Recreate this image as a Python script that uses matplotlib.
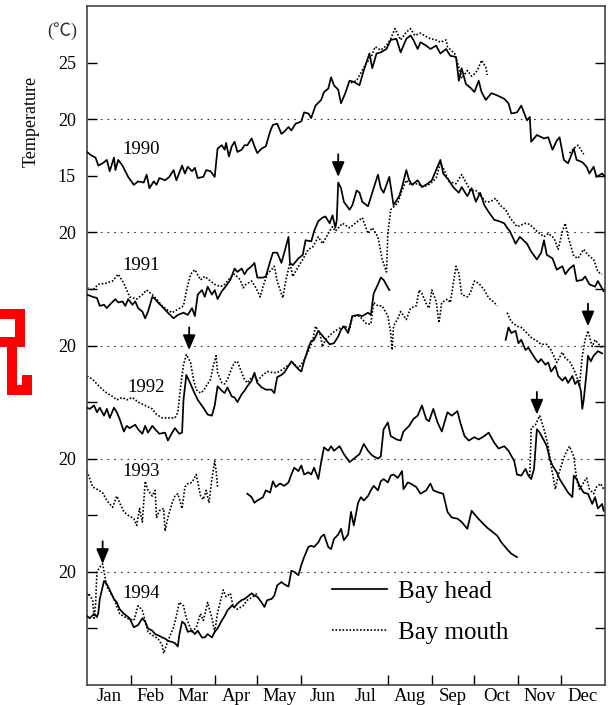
import numpy as np
import matplotlib
matplotlib.use("Agg")
import matplotlib.pyplot as plt
from matplotlib.lines import Line2D

plt.rcParams["font.family"] = ["Liberation Serif", "DejaVu Sans"]

years = ["1990", "1991", "1992", "1993", "1994"]
shift = 10  # each year is drawn 10 degC lower than the one above

month_names = ["Jan", "Feb", "Mar", "Apr", "May", "Jun",
               "Jul", "Aug", "Sep", "Oct", "Nov", "Dec"]
month_starts = [0, 31, 59, 90, 120, 151, 181, 212, 243, 273, 304, 334, 365]
tick_days = [31, 59, 90, 120, 151, 212, 243, 273, 304, 334]

# (day of year, water temperature degC)
head_1990 = [(0, 17.1), (3, 16.8), (6, 16.6), (8, 15.9), (11, 16.1), (14, 16.4), (16, 15.4), (19, 16.6),
             (20, 15.5), (22, 16.4), (25, 15.9), (27, 15.4), (29, 14.9), (33, 14.2), (36, 14.5), (40, 14.4),
             (42, 15.1), (44, 13.9), (47, 14.5), (49, 14.2), (51, 14.8), (55, 14.6), (58, 14.9), (61, 15.5),
             (63, 14.6), (67, 15.9), (69, 15.2), (71, 15.8), (74, 15.4), (76, 15.7), (78, 14.8), (82, 14.9),
             (84, 15.5), (87, 15.4), (90, 14.9), (92, 17.4), (95, 17.7), (97, 17.3), (98, 17.9), (100, 16.7),
             (102, 17.6), (104, 18.0), (106, 17.1), (109, 17.3), (111, 17.7), (113, 17.7), (116, 18.3),
             (118, 17.6), (120, 17.0), (123, 17.4), (126, 17.6), (129, 18.9), (131, 19.5), (134, 19.6),
             (137, 18.7), (139, 18.9), (142, 19.3), (144, 19.0), (147, 19.6), (151, 19.8), (153, 20.6),
             (156, 20.5), (158, 20.1), (161, 21.2), (165, 21.7), (167, 22.4), (170, 22.7), (172, 23.7),
             (174, 23.0), (177, 22.6), (179, 21.4), (182, 22.3), (185, 23.4), (188, 23.3), (192, 23.0),
             (195, 24.3), (199, 25.8), (201, 24.5), (204, 25.8), (207, 25.9), (211, 26.2), (214, 27.0),
             (218, 27.1), (221, 25.9), (225, 27.1), (228, 27.4), (230, 27.0), (233, 26.2), (235, 26.8),
             (239, 26.5), (242, 26.2), (246, 26.5), (249, 25.8), (253, 26.2), (256, 25.6), (260, 25.5),
             (262, 23.4), (264, 24.5), (267, 23.1), (270, 22.8), (273, 22.4), (276, 23.4), (278, 22.4),
             (281, 21.7), (285, 22.3), (289, 22.1), (294, 21.8), (297, 21.4), (299, 20.5), (303, 20.6),
             (306, 21.2), (310, 19.9), (312, 20.2), (313, 18.0), (317, 18.6), (322, 18.3), (325, 18.4),
             (328, 17.3), (331, 18.1), (333, 18.4), (336, 16.4), (339, 16.1), (343, 17.4), (345, 16.4),
             (349, 16.2), (352, 15.8), (354, 15.2), (357, 15.8), (359, 14.9), (363, 15.2), (365, 14.9)]
mouth_1990 = [(186, 23.2), (190, 23.4), (193, 24.1), (197, 25.0), (200, 25.4), (203, 26.4), (207, 26.1),
              (211, 26.5), (214, 27.1), (217, 28.0), (221, 27.0), (225, 27.7), (228, 28.0), (231, 27.4),
              (235, 27.6), (239, 27.3), (242, 27.1), (246, 27.0), (249, 26.8), (253, 27.0), (254, 26.4),
              (259, 25.8), (262, 24.6), (264, 23.6), (268, 24.3), (271, 23.8), (273, 24.0), (275, 24.3),
              (278, 25.2), (281, 24.6), (282, 23.9)]
mouth_1990_dec = [(340, 17.0), (343, 17.4), (346, 17.7), (350, 16.9)]

head_1991 = [(0, 14.5), (4, 14.3), (7, 14.2), (9, 13.5), (12, 13.6), (14, 13.3), (16, 13.6), (20, 14.1),
             (22, 13.8), (25, 13.9), (27, 13.5), (29, 14.1), (32, 13.6), (34, 13.9), (36, 13.3), (39, 13.0),
             (41, 12.4), (43, 13.0), (46, 14.3), (48, 14.1), (50, 13.8), (54, 13.3), (57, 12.9), (61, 12.4),
             (64, 12.7), (68, 12.9), (71, 12.7), (74, 13.3), (76, 12.6), (78, 14.5), (81, 14.9), (83, 14.3),
             (85, 15.2), (88, 14.5), (90, 14.9), (92, 14.1), (95, 14.8), (97, 15.1), (101, 15.8), (104, 16.8),
             (106, 16.5), (109, 16.8), (111, 16.3), (113, 16.7), (116, 17.0), (118, 17.3), (120, 16.0),
             (124, 16.0), (126, 16.1), (129, 17.4), (131, 18.2), (134, 18.2), (137, 17.3), (139, 18.2),
             (142, 19.6), (143, 17.3), (145, 17.1), (149, 17.7), (152, 18.0), (154, 19.3), (158, 19.2),
             (160, 20.1), (163, 21.0), (166, 21.3), (168, 21.4), (171, 20.8), (173, 21.5), (175, 20.4),
             (176, 21.1), (177, 24.4), (179, 23.9), (181, 22.7), (185, 22.0), (187, 22.4), (190, 23.7),
             (192, 23.5), (194, 22.7), (198, 22.3), (201, 23.5), (205, 25.1), (207, 23.9), (209, 23.5),
             (213, 24.9), (216, 22.4), (220, 23.2), (222, 24.0), (225, 25.5), (227, 24.6), (229, 24.2),
             (233, 24.6), (236, 24.0), (240, 24.3), (243, 24.6), (247, 25.8), (249, 26.4), (251, 25.2),
             (255, 24.6), (258, 24.0), (262, 23.5), (264, 24.0), (268, 23.2), (271, 23.9), (274, 22.7),
             (277, 23.5), (280, 22.4), (283, 21.8), (287, 21.1), (290, 21.0), (294, 20.8), (296, 20.4),
             (298, 20.1), (302, 19.0), (305, 19.6), (310, 19.0), (313, 18.3), (317, 17.6), (320, 18.2),
             (322, 19.3), (324, 18.0), (328, 17.7), (331, 16.7), (335, 17.0), (337, 16.3), (340, 16.8),
             (343, 17.1), (345, 15.7), (349, 15.8), (351, 16.1), (354, 15.4), (358, 15.2), (360, 15.7),
             (364, 14.8)]
mouth_1991 = [(0, 15.1), (4, 14.9), (8, 15.4), (13, 15.5), (18, 15.7), (22, 16.3), (26, 15.5), (30, 14.3),
              (35, 14.1), (39, 14.5), (42, 14.9), (46, 14.5), (49, 14.1), (53, 13.5), (56, 13.2), (60, 12.9),
              (64, 13.2), (68, 13.5), (70, 14.8), (73, 16.3), (76, 16.7), (80, 15.8), (83, 16.1), (87, 15.7),
              (90, 15.4), (94, 15.2), (97, 15.4), (101, 16.0), (104, 16.3), (108, 15.8), (110, 15.1),
              (112, 15.4), (116, 15.7), (119, 15.1), (122, 14.3), (124, 15.2), (127, 16.3), (130, 16.7),
              (132, 17.0), (134, 15.7), (138, 14.2), (140, 15.7), (143, 17.3), (145, 16.1), (149, 17.0),
              (152, 17.6), (156, 18.5), (159, 18.7), (163, 19.6), (166, 19.0), (170, 19.9), (173, 20.5),
              (175, 20.1), (178, 20.5), (180, 20.8), (185, 20.4), (191, 21.0), (194, 21.3), (198, 19.9),
              (201, 20.4), (205, 19.6), (208, 17.6), (211, 16.5), (212, 19.9), (214, 22.0), (219, 22.6),
              (222, 23.7), (225, 24.6), (228, 24.2), (233, 24.3), (237, 24.0), (242, 24.3), (246, 24.8),
              (249, 26.1), (251, 25.7), (255, 24.5), (260, 24.3), (264, 25.1), (268, 24.2), (270, 23.7),
              (274, 23.7), (277, 23.3), (281, 22.7), (284, 22.7), (288, 23.0), (291, 22.4), (295, 22.0),
              (298, 21.3), (303, 20.5), (309, 20.8), (312, 20.7), (317, 20.1), (322, 19.6), (325, 19.9),
              (329, 19.5), (332, 18.5), (335, 20.1), (337, 20.8), (339, 19.6), (343, 17.9), (346, 17.7),
              (350, 18.5), (353, 18.0), (357, 17.6), (360, 16.5), (363, 16.3)]

head_1992 = [(0, 14.5), (2, 14.4), (5, 14.7), (7, 14.1), (9, 14.5), (12, 13.8), (14, 14.4), (16, 13.6),
             (19, 14.5), (21, 14.1), (23, 13.5), (26, 12.4), (28, 12.9), (30, 12.7), (34, 13.0), (36, 12.6),
             (39, 12.2), (41, 12.9), (43, 12.3), (46, 12.9), (48, 12.6), (51, 12.2), (55, 12.3), (57, 11.6),
             (60, 12.3), (62, 12.7), (65, 12.2), (67, 12.3), (68, 15.2), (70, 17.4), (73, 16.6), (75, 16.0),
             (78, 15.2), (82, 14.5), (85, 13.9), (88, 13.8), (90, 14.7), (92, 16.4), (95, 16.0), (97, 15.8),
             (99, 16.3), (102, 15.5), (104, 15.4), (106, 15.0), (109, 15.7), (111, 16.0), (113, 16.4),
             (116, 16.9), (118, 17.6), (120, 16.7), (123, 16.3), (126, 16.1), (130, 16.1), (132, 15.8),
             (134, 17.2), (137, 17.4), (139, 17.6), (142, 18.2), (144, 18.6), (146, 18.3), (149, 17.9),
             (151, 17.7), (153, 18.6), (156, 19.8), (158, 20.4), (160, 20.5), (163, 21.3), (165, 21.0),
             (167, 20.7), (171, 20.1), (174, 20.2), (177, 20.8), (179, 21.4), (181, 21.7), (184, 21.1),
             (187, 22.6), (191, 22.7), (194, 22.6), (198, 22.9), (200, 22.7), (202, 24.6), (205, 25.4),
             (207, 26.0), (209, 25.8), (213, 24.9)]
head_1992_late = [(295, 20.5), (297, 21.6), (299, 21.1), (302, 21.3), (304, 20.2), (306, 20.5), (309, 19.6),
                  (311, 19.8), (313, 19.4), (316, 18.8), (318, 18.5), (320, 18.8), (323, 18.3), (325, 18.5),
                  (327, 17.7), (330, 18.2), (332, 17.3), (335, 16.9), (337, 17.2), (339, 16.7), (342, 17.3),
                  (344, 16.6), (346, 16.9), (348, 16.0), (349, 14.4), (350, 15.2), (352, 17.6), (353, 19.1),
                  (355, 18.6), (357, 19.1), (360, 19.5), (363, 19.3)]
mouth_1992 = [(0, 17.3), (4, 17.0), (7, 16.6), (11, 16.1), (14, 15.8), (18, 15.5), (21, 15.2), (25, 15.4),
              (28, 15.2), (32, 15.4), (36, 15.0), (41, 14.7), (46, 14.4), (49, 13.9), (53, 13.6), (57, 13.6),
              (62, 13.6), (64, 14.1), (66, 16.4), (68, 18.3), (70, 19.2), (73, 18.5), (75, 17.0), (77, 16.1),
              (80, 15.8), (82, 16.0), (84, 16.4), (87, 17.0), (89, 18.2), (91, 19.1), (92, 17.6), (95, 16.7),
              (97, 16.6), (99, 17.0), (102, 18.0), (104, 18.5), (106, 18.6), (109, 17.6), (111, 17.0),
              (113, 16.7), (116, 17.2), (118, 17.3), (120, 16.9), (124, 17.4), (127, 17.7), (131, 17.6),
              (134, 17.6), (138, 17.9), (142, 18.3), (145, 18.5), (149, 18.0), (152, 18.5), (156, 19.5),
              (159, 20.4), (161, 21.7), (164, 21.1), (166, 19.9), (168, 20.5), (172, 21.0), (175, 21.3),
              (179, 21.6), (182, 21.7), (185, 21.4), (187, 22.6), (192, 22.6), (197, 21.9), (200, 21.9),
              (202, 23.8), (205, 23.5), (208, 23.5), (212, 22.6), (214, 21.1), (215, 19.6), (216, 21.7),
              (219, 22.4), (221, 23.0), (225, 22.3), (228, 23.3), (232, 23.5), (234, 24.9), (236, 24.6),
              (239, 23.7), (241, 23.3), (243, 24.9), (246, 23.9), (248, 22.0), (250, 23.8), (254, 24.1),
              (256, 23.8), (260, 27.0), (262, 26.4), (264, 24.5), (268, 24.3), (270, 24.6), (273, 25.7),
              (276, 25.5), (280, 24.9), (283, 24.2), (287, 23.8), (289, 23.5)]
mouth_1992_late = [(296, 22.9), (299, 22.1), (303, 21.7), (306, 21.6), (310, 21.1), (313, 20.7), (317, 20.4),
                   (320, 20.1), (324, 20.1), (327, 19.6), (331, 18.5), (335, 19.4), (337, 18.9), (340, 18.6),
                   (343, 17.9), (345, 17.3), (347, 16.4), (349, 19.1), (351, 20.5), (353, 21.3), (356, 19.9),
                   (358, 20.5), (360, 20.2), (363, 19.8)]

mouth_1993 = [(0, 18.9), (2, 18.2), (4, 17.5), (7, 17.3), (11, 17.0), (14, 16.3), (18, 15.7), (21, 16.7),
              (23, 16.1), (26, 15.3), (29, 15.0), (33, 14.7), (35, 14.1), (37, 15.6), (39, 14.4), (41, 18.0),
              (43, 17.2), (46, 16.7), (48, 17.2), (49, 14.8), (51, 15.4), (54, 15.6), (55, 13.6), (57, 14.8),
              (60, 16.1), (62, 16.7), (64, 16.9), (67, 15.6), (69, 17.5), (71, 17.8), (74, 17.9), (77, 18.6),
              (80, 16.7), (82, 16.4), (84, 17.2), (86, 16.1), (88, 18.2), (90, 19.8), (91, 18.9), (92, 17.5)]
head_1993 = [(113, 16.9), (116, 16.6), (118, 16.1), (120, 16.3), (124, 16.6), (126, 17.2), (129, 17.0),
             (131, 18.0), (133, 17.5), (136, 17.8), (139, 17.6), (142, 17.9), (144, 18.6), (146, 19.2),
             (149, 18.9), (151, 19.4), (153, 18.6), (156, 18.8), (158, 18.6), (160, 19.2), (163, 18.2),
             (165, 19.7), (167, 21.0), (170, 20.7), (172, 21.1), (174, 20.7), (178, 21.1), (181, 20.4),
             (185, 19.7), (188, 20.0), (192, 20.4), (195, 21.3), (198, 20.7), (200, 20.4), (202, 20.2),
             (205, 20.0), (207, 20.2), (209, 22.6), (212, 23.2), (214, 22.0), (218, 21.7), (221, 21.6),
             (223, 22.4), (227, 22.9), (230, 23.5), (233, 23.8), (236, 24.7), (239, 23.5), (241, 23.3),
             (244, 24.4), (247, 23.2), (250, 22.4), (254, 24.1), (257, 23.8), (261, 24.2), (263, 23.2),
             (266, 22.0), (269, 21.6), (273, 21.9), (276, 21.7), (280, 22.0), (283, 22.3), (287, 21.4),
             (290, 20.9), (294, 21.1), (297, 20.7), (301, 19.8), (303, 18.6), (306, 18.5), (309, 19.1),
             (311, 18.5), (313, 18.2), (315, 19.1), (317, 22.6), (319, 22.3), (322, 21.6), (324, 21.1),
             (326, 20.0), (328, 19.4), (331, 18.8), (333, 18.2), (336, 17.6), (339, 17.0), (342, 16.6),
             (343, 18.5), (345, 18.2), (347, 17.6), (350, 17.0), (353, 16.9), (356, 16.0), (358, 16.6),
             (360, 15.6), (363, 16.0), (364, 15.4)]
mouth_1993_late = [(312, 18.5), (313, 22.7), (316, 23.0), (319, 23.8), (322, 22.6), (325, 21.1), (327, 19.4),
                   (330, 17.3), (332, 18.5), (335, 19.7), (337, 20.4), (340, 21.1), (343, 20.2), (345, 18.2),
                   (347, 17.3), (350, 17.9), (352, 18.3), (354, 17.3), (357, 16.9), (359, 17.5), (362, 17.8),
                   (364, 17.3)]

head_1994 = [(0, 16.1), (2, 15.9), (5, 16.3), (7, 16.0), (8, 16.4), (9, 17.6), (12, 19.2), (14, 18.9),
             (16, 18.4), (19, 17.6), (21, 17.3), (23, 16.7), (26, 16.3), (28, 16.1), (30, 15.9), (33, 15.1),
             (36, 15.3), (39, 15.9), (41, 15.6), (43, 15.0), (46, 14.8), (48, 14.5), (50, 14.4), (53, 14.2),
             (55, 14.1), (57, 13.9), (60, 13.8), (62, 13.7), (64, 13.4), (65, 14.4), (67, 15.6), (69, 15.4),
             (71, 14.7), (74, 14.8), (76, 14.5), (78, 14.8), (81, 14.2), (83, 14.2), (85, 14.5), (88, 14.2),
             (90, 14.7), (92, 15.0), (95, 15.7), (97, 16.1), (99, 16.6), (102, 17.0), (104, 16.9),
             (106, 17.2), (109, 17.5), (111, 17.6), (113, 17.8), (116, 18.1), (118, 17.9), (120, 17.8),
             (123, 17.3), (125, 16.9), (127, 17.5), (130, 17.6), (132, 17.9), (134, 18.8), (137, 19.1),
             (139, 18.9), (142, 18.7), (144, 20.1), (146, 20.0), (149, 19.7), (151, 20.6), (153, 21.3),
             (156, 22.2), (158, 22.3), (160, 22.2), (163, 22.6), (165, 23.1), (167, 23.3), (170, 22.2),
             (172, 22.0), (174, 22.9), (177, 23.3), (179, 23.8), (181, 22.8), (184, 23.3), (186, 25.3),
             (188, 24.1), (191, 26.1), (193, 26.6), (195, 26.3), (198, 26.7), (200, 27.2), (202, 27.6),
             (205, 27.2), (207, 28.0), (209, 28.2), (212, 27.9), (214, 28.5), (216, 28.6), (219, 28.3),
             (222, 28.9), (223, 27.3), (226, 27.9), (228, 27.8), (232, 27.5), (235, 26.9), (239, 27.2),
             (242, 27.8), (244, 27.2), (248, 27.0), (251, 26.9), (254, 25.3), (257, 24.8), (261, 24.7),
             (264, 24.4), (268, 23.8), (271, 25.4), (275, 24.8), (278, 24.4), (282, 23.9), (285, 23.6),
             (289, 23.2), (292, 22.6), (296, 22.0), (299, 21.6), (303, 21.3)]
mouth_1994 = [(0, 17.6), (1, 18.1), (4, 17.5), (5, 15.9), (6, 17.0), (7, 20.0), (9, 20.4), (11, 20.7),
              (14, 18.7), (19, 17.6), (23, 16.3), (28, 15.9), (33, 15.7), (36, 17.0), (39, 16.6), (41, 15.7),
              (43, 14.7), (46, 14.4), (50, 14.1), (53, 13.5), (54, 12.8), (57, 13.9), (61, 15.1), (63, 16.1),
              (65, 17.3), (68, 17.0), (70, 15.9), (74, 14.7), (77, 15.1), (80, 16.3), (82, 15.7), (85, 17.3),
              (88, 15.9), (90, 14.7), (92, 16.4), (96, 18.4), (98, 17.8), (101, 18.1), (103, 16.9),
              (106, 16.7), (110, 17.0), (113, 17.5), (117, 17.8), (120, 18.1)]

# (year index, data, site)
series = [
    (0, head_1990, "head"), (0, mouth_1990, "mouth"), (0, mouth_1990_dec, "mouth"),
    (1, head_1991, "head"), (1, mouth_1991, "mouth"),
    (2, head_1992, "head"), (2, head_1992_late, "head"),
    (2, mouth_1992, "mouth"), (2, mouth_1992_late, "mouth"),
    (3, mouth_1993, "mouth"), (3, head_1993, "head"), (3, mouth_1993_late, "mouth"),
    (4, head_1994, "head"), (4, mouth_1994, "mouth"),
]

# sudden warm intrusions marked with arrows: (year index, day, temperature at tip)
arrow_marks = [(1, 177, 24.9), (2, 72, 19.6), (2, 353, 21.7), (3, 317, 23.9), (4, 11, 20.7)]

year_label_pos = [(38, 17.3), (38, 17.1), (42, 16.3), (38, 18.9), (38, 18.1)]

fig = plt.figure(figsize=(6.15, 7.05), dpi=100)
ax = fig.add_axes([87 / 615, 1 - 685 / 705, 518 / 615, 679 / 705])

handles = {}
for k, data, site in series:
    day, temp = zip(*data)
    y = np.array(temp) - shift * k
    if site == "head":
        line, = ax.plot(day, y, color="black", lw=1.25, zorder=3)
    else:
        line, = ax.plot(day, y, color="black", lw=1.2, linestyle=(0, (1, 1.1)), zorder=2)
    handles.setdefault(site, line)

for k in range(len(years)):
    ax.axhline(20 - shift * k, color="#333333", lw=0.8, linestyle=(0, (1.5, 4.5)), zorder=1)
    x, t = year_label_pos[k]
    ax.text(x, t - shift * k, years[k], fontsize=13.5, ha="center", va="center")

for k, day, t in arrow_marks:
    ax.annotate("", xy=(day, t - shift * k), xytext=(day, t - shift * k + 2.0),
                arrowprops=dict(arrowstyle="-|>,head_length=0.9,head_width=0.38",
                                color="black", lw=1.3, mutation_scale=10,
                                shrinkA=0, shrinkB=0))

ax.set_xlim(0, 365)
ax.set_ylim(-30, 30)

yt = np.arange(-25, 30, 5)
ylab = {25: "25", 20: "20", 15: "15", 10: "20", 0: "20", -10: "20", -20: "20"}
ax.set_yticks(yt)
ax.set_yticklabels([ylab.get(int(v), "") for v in yt])
ax.tick_params(axis="y", direction="in", length=7, width=1, right=True, labelsize=13, pad=8)

ax.set_xticks(tick_days)
ax.set_xticklabels([])
mids = [(a + b) / 2 for a, b in zip(month_starts[:-1], month_starts[1:])]
ax.set_xticks(mids, minor=True)
ax.set_xticklabels(month_names, minor=True)
ax.tick_params(axis="x", which="major", direction="in", length=7, width=1)
ax.tick_params(axis="x", which="minor", length=0, pad=2, labelsize=13.5)

for s in ax.spines.values():
    s.set_color("#444444")
    s.set_linewidth(1.2)

ax.legend([handles["head"], handles["mouth"]], ["Bay head", "Bay mouth"],
          loc="upper left", bbox_to_anchor=(0.473, 0.1546), frameon=False, fontsize=18,
          handlelength=2.2, handletextpad=0.45, labelspacing=0.76, borderpad=0, borderaxespad=0)

fig.text(31 / 615, 1 - 121 / 705, "Temperature", rotation=90, ha="center", va="center", fontsize=13)
fig.text(62 / 615, 1 - 31 / 705, "(\u2103)", ha="center", va="center", fontsize=13, color="#333333",
         family=["Liberation Serif", "Noto Sans CJK JP", "DejaVu Sans"])

# red mark at the left edge
red_px = [[(0, 314), (20, 314), (20, 342), (0, 342)],
          [(11.5, 342), (11.5, 390), (27, 390), (27, 375)]]
for path in red_px:
    xs = [p[0] / 615 for p in path]
    ys = [1 - p[1] / 705 for p in path]
    fig.add_artist(Line2D(xs, ys, transform=fig.transFigure, color="#ff0000", lw=7.2,
                          solid_joinstyle="miter", solid_capstyle="butt"))

fig.savefig("out.png", dpi=100)
